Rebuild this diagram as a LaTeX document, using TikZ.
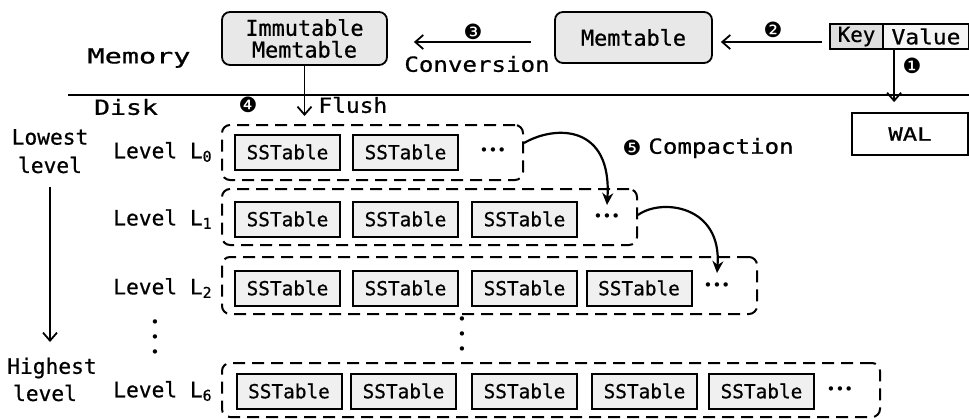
\documentclass[tikz,border=0pt]{standalone}
\usepackage{fontspec}
\usepackage{graphicx}
\setmonofont[FakeBold=0.7]{DejaVu Sans Mono}
\newfontfamily\dejavu{DejaVu Sans}
\usetikzlibrary{arrows.meta,calc}
\newcommand\hs[2]{\scalebox{#1}[1]{#2}}
\newcommand\fs[1]{\fontsize{#1}{#1}\selectfont}
\begin{document}
\begin{tikzpicture}[x=0.5pt,y=-0.5pt,
  every node/.style={font=\ttfamily, inner sep=0pt},
  memb/.style={draw, line width=0.9pt, rounded corners=4pt, fill=gray!18, font=\ttfamily\fs{10.9}, align=center},
  sst/.style={draw, line width=1pt, fill=gray!12, minimum width=52.5pt, minimum height=17.5pt, font=\ttfamily\fs{9.7}},
  lvlbox/.style={draw, dash pattern=on 6pt off 3.5pt, line width=1pt, rounded corners=4pt},
  lab/.style={font=\ttfamily\fs{10.6}},
  big/.style={font=\ttfamily\fs{10.4}},
  num/.style={font=\dejavu\fs{10.5}},
  dotrow/.style={font=\dejavu\fs{7.5}},
  dotcol/.style={font=\dejavu\fs{7.5}, align=center},
  arr/.style={line width=0.9pt, -{Straight Barb[length=4pt,width=7pt]}},
  carr/.style={line width=1.1pt, -{Stealth[length=6pt,width=5.5pt]}},
]
\useasboundingbox (0,0) rectangle (969,418);

% memory part
\node[big] (memory) at (139,58) {\hs{1.37}{Memory}};
\node[big] (disk) at (126,107) {\hs{1.27}{Disk}};
\coordinate (sepL) at (68,95);
\coordinate (sepR) at (969,95);
\draw[line width=1pt] (sepL) -- (sepR);

\node[memb, minimum width=82.5pt, minimum height=26.5pt] (imm) at (304.5,38.5)
  {\fontsize{10.9}{14}\selectfont Immutable\\Memtable};
\node[memb, minimum width=78.5pt, minimum height=25.5pt] (mem) at (633.5,37.5) {Memtable};

\node[draw, line width=0.9pt, fill=gray!25, minimum width=26.5pt, minimum height=12.5pt, big] (key) at (856.5,36.5) {Key};
\node[draw, line width=0.9pt, fill=gray!8, minimum width=43pt, minimum height=12.5pt, big] (val) at (926,36.5) {\hs{1.1}{Value}};
\node[draw, line width=0.9pt, minimum width=58pt, minimum height=21pt, font=\ttfamily\fs{9.2}] (wal) at (910,134) {\hs{1.3}{WAL}};

\draw[arr, shorten <=11.5pt, shorten >=13pt] ([yshift=-2.25pt]mem.west) -- ([yshift=-2.25pt]mem.west -| imm.east);
\node[num] (n3) at (473,32) {❸};
\node[big] (conv) at (477,64) {\hs{1.16}{Conversion}};

\draw[arr, shorten <=3.5pt, shorten >=4pt] ([yshift=-2.75pt]key.west) -- ([yshift=-2.75pt]key.west -| mem.east);
\node[num] (n2) at (773,30) {❷};

\draw[arr, shorten >=5pt] ([xshift=6pt]val.south west) -- ([xshift=6pt]val.south west |- wal.north);
\node[num] (n1) at (912,66) {❶};

\coordinate (flushend) at (304.5,116);
\draw[arr] (imm.south) -- (flushend);
\node[num] (n4) at (248,105) {❹};
\node[big, anchor=west] (flush) at (318,105) {\hs{1.1}{Flush}};

% left side
\node[lab] (low1) at (50,137) {Lowest};
\node[lab] (low2) at (50,165) {level};
\node[lab] (high1) at (52,368) {Highest};
\node[lab] (high2) at (45,393) {level};
\coordinate (va) at (50,187);
\coordinate (vb) at (50,342);
\draw[arr] (va) -- (vb);

% level labels
\node[lab, anchor=east] (l0) at (213,152) {Level L\textsubscript{0}};
\node[lab, anchor=east] (l1) at (213,219) {Level L\textsubscript{1}};
\node[lab, anchor=east] (l2) at (213,288) {Level L\textsubscript{2}};
\node[lab, anchor=east] (l6) at (213,391) {Level L\textsubscript{6}};
\node[dotcol] (vd1) at (155,339) {\fontsize{7.5}{5.5}\selectfont •\\•\\•};
\node[dotcol] (vd2) at (462,336) {\fontsize{7.5}{5.5}\selectfont •\\•\\•};

% level boxes
\node[lvlbox, minimum width=150.5pt, minimum height=27.5pt] (b0) at (372.5,152.5) {};
\node[lvlbox, minimum width=207.5pt, minimum height=28pt] (b1) at (429.5,217) {};
\node[lvlbox, minimum width=267.5pt, minimum height=28.5pt] (b2) at (489.5,285.5) {};
\node[lvlbox, minimum width=329pt, minimum height=27pt] (b6) at (551,390) {};

% SSTables
\foreach \x [count=\i] in {287.5,405.5} \node[sst] (s0-\i) at (\x,152) {SSTable};
\foreach \x [count=\i] in {287.5,405.5,524.5} \node[sst] (s1-\i) at (\x,219) {SSTable};
\foreach \x [count=\i] in {287.5,405.5,524.5,639} \node[sst] (s2-\i) at (\x,288) {SSTable};
\foreach \x [count=\i] in {289,403.5,524.5,644.5,761.5} \node[sst] (s6-\i) at (\x,391) {SSTable};

\node[dotrow] (d0) at (493,152) {•••};
\node[dotrow] (d1) at (607,218) {•••};
\node[dotrow] (d2) at (717,287) {•••};
\node[dotrow] (d6) at (840,391) {•••};

% compaction
\draw[carr] ([yshift=4.75pt]b0.east) .. controls ($(b0.east)+(32,-28)$) and ($(d1.center)+(5,-93)$) .. ([yshift=6.5pt]d1.center);
\draw[carr] ([yshift=1pt]b1.east) .. controls ($(b1.east)+(23,-19)$) and ($(d2.center)+(5,-82)$) .. ([yshift=7pt]d2.center);
\node[num] (n5) at (632,148) {❺};
\node[big, anchor=west] (comp) at (648,148) {\hs{1.16}{Compaction}};
\end{tikzpicture}
\end{document}
